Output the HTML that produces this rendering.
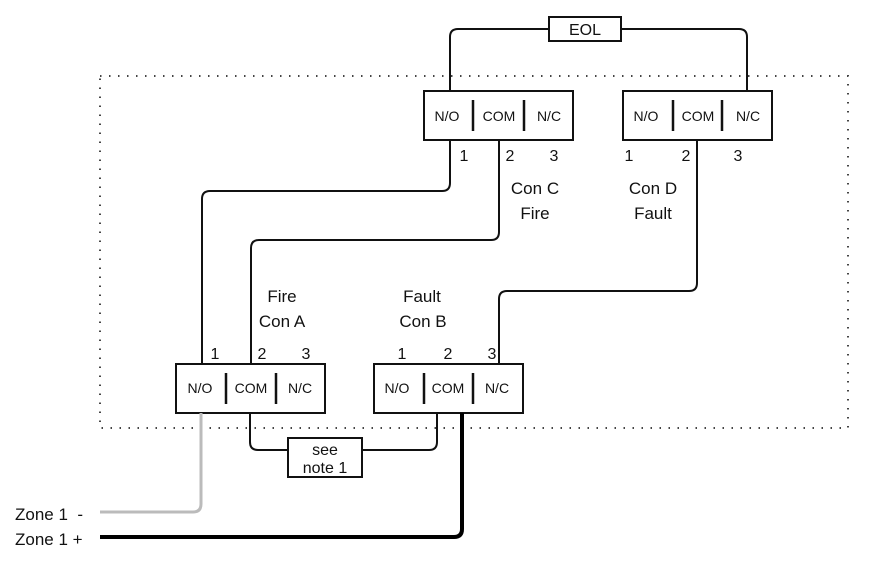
<!DOCTYPE html>
<html><head><meta charset="utf-8"><style>
html,body{margin:0;padding:0;background:#fff;}
svg{display:block;}
text{font-family:"Liberation Sans",Arial,sans-serif;fill:#111;}
</style></head><body>
<svg width="873" height="561" viewBox="0 0 873 561" xmlns="http://www.w3.org/2000/svg">
<rect x="100" y="76" width="748" height="352" fill="none" stroke="#444" stroke-width="2" stroke-dasharray="1.5 7.5"/>
<g fill="none" stroke="#111" stroke-width="2">
<path d="M450 91 V37 Q450 29 458 29 H549"/>
<path d="M621 29 H739 Q747 29 747 37 V91"/>
<rect x="549" y="17" width="72" height="24" fill="#fff"/>
<rect x="424" y="91" width="149" height="49" fill="#fff"/>
<rect x="623" y="91" width="149" height="49" fill="#fff"/>
<rect x="176" y="364" width="149" height="49" fill="#fff"/>
<rect x="374" y="364" width="149" height="49" fill="#fff"/>
<path d="M473 100V131M524 100V131M673 100V131M722 100V131M226 373V404M276 373V404M424 373V404M473 373V404" stroke-width="2.5"/>
<path d="M450 140 V183 Q450 191 442 191 H210 Q202 191 202 199 V364"/>
<path d="M499 140 V232 Q499 240 491 240 H259 Q251 240 251 248 V364"/>
<path d="M697 140 V283 Q697 291 689 291 H507 Q499 291 499 299 V364"/>
<path d="M250 413 V442 Q250 450 258 450 H288"/>
<path d="M362 450 H429 Q437 450 437 442 V413"/>
<rect x="288" y="438" width="74" height="39" fill="#fff"/>
</g>
<path d="M201 413 V504 Q201 512 193 512 H100" fill="none" stroke="#bbb" stroke-width="3"/>
<path d="M462 413 V529 Q462 537 454 537 H100" fill="none" stroke="#000" stroke-width="4"/>
<g font-size="15" text-anchor="middle">
<text x="585" y="35" font-size="16">EOL</text>
<text x="447" y="121" font-size="14">N/O</text><text x="499" y="121" font-size="14">COM</text><text x="549" y="121" font-size="14">N/C</text>
<text x="646" y="121" font-size="14">N/O</text><text x="698" y="121" font-size="14">COM</text><text x="748" y="121" font-size="14">N/C</text>
<text x="200" y="393" font-size="14">N/O</text><text x="251" y="393" font-size="14">COM</text><text x="300" y="393" font-size="14">N/C</text>
<text x="397" y="393" font-size="14">N/O</text><text x="448" y="393" font-size="14">COM</text><text x="497" y="393" font-size="14">N/C</text>
<text x="464" y="161" font-size="16">1</text><text x="510" y="161" font-size="16">2</text><text x="554" y="161" font-size="16">3</text>
<text x="629" y="161" font-size="16">1</text><text x="686" y="161" font-size="16">2</text><text x="738" y="161" font-size="16">3</text>
<text x="215" y="359" font-size="16">1</text><text x="262" y="359" font-size="16">2</text><text x="306" y="359" font-size="16">3</text>
<text x="402" y="359" font-size="16">1</text><text x="448" y="359" font-size="16">2</text><text x="492" y="359" font-size="16">3</text>
<text x="535" y="194" font-size="17">Con C</text><text x="535" y="219" font-size="17">Fire</text>
<text x="653" y="194" font-size="17">Con D</text><text x="653" y="219" font-size="17">Fault</text>
<text x="282" y="302" font-size="17">Fire</text><text x="282" y="327" font-size="17">Con A</text>
<text x="422" y="302" font-size="17">Fault</text><text x="423" y="327" font-size="17">Con B</text>
<text x="325" y="455" font-size="16">see</text><text x="325" y="473" font-size="16">note 1</text>
</g>
<text x="15" y="520" font-size="17">Zone 1 &#160;-</text>
<text x="15" y="545" font-size="17">Zone 1 +</text>
</svg>
</body></html>
